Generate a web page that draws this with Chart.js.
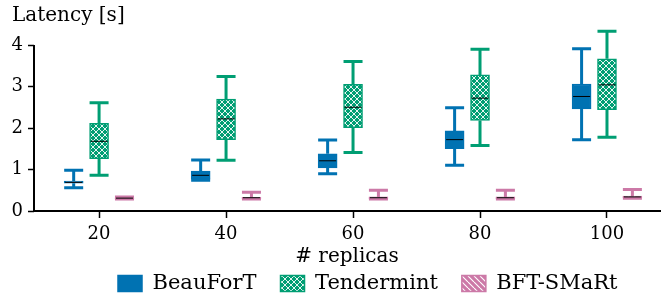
<!DOCTYPE html>
<html>
<head>
<meta charset="utf-8">
<title>Latency vs replicas</title>
<script src="https://cdn.jsdelivr.net/npm/chart.js@4.4.1/dist/chart.umd.min.js"></script>
<style>
  html, body { margin: 0; padding: 0; background: #fff; }
  #wrap { width: 664px; height: 297px; }
</style>
</head>
<body>
<div id="wrap"><canvas id="latencyChart" width="664" height="297"></canvas></div>
<script>
const replicas = [20, 40, 60, 80, 100];
const yTicks = [0, 1, 2, 3, 4];
const seriesNames = ['BeauForT', 'Tendermint', 'BFT-SMaRt'];

// [min, q1, median, q3, max] for each replica count
const beaufortStats = [
  [0.56, 0.67, 0.69, 0.72, 0.98],
  [0.74, 0.77, 0.86, 0.96, 1.23],
  [0.90, 1.04, 1.21, 1.38, 1.71],
  [1.10, 1.50, 1.72, 1.93, 2.49],
  [1.72, 2.46, 2.76, 3.06, 3.91]
];
const tendermintStats = [
  [0.86, 1.26, 1.68, 2.11, 2.61],
  [1.22, 1.72, 2.22, 2.70, 3.24],
  [1.41, 2.01, 2.50, 3.05, 3.60],
  [1.58, 2.18, 2.72, 3.28, 3.90],
  [1.78, 2.44, 3.04, 3.67, 4.33]
];
const bftSmartStats = [
  [0.29, 0.30, 0.31, 0.32, 0.34],
  [0.29, 0.30, 0.32, 0.33, 0.45],
  [0.29, 0.30, 0.32, 0.34, 0.50],
  [0.29, 0.30, 0.32, 0.34, 0.50],
  [0.31, 0.32, 0.34, 0.36, 0.52]
];

const BLUE = '#0072B2';
const GREEN = '#009E73';
const PINK = '#CC79A7';
const BOX_W = 19;

// hatch fills
function crossHatch(color) {
  const c = document.createElement('canvas');
  c.width = c.height = 6;
  const g = c.getContext('2d');
  g.fillStyle = color;
  g.fillRect(0, 0, 6, 6);
  g.strokeStyle = '#fff';
  g.lineWidth = 0.9;
  g.beginPath();
  g.moveTo(-1, -1); g.lineTo(7, 7);
  g.moveTo(-1, 7); g.lineTo(7, -1);
  g.stroke();
  return g.createPattern(c, 'repeat');
}

function diagHatch(color) {
  const c = document.createElement('canvas');
  c.width = c.height = 6;
  const g = c.getContext('2d');
  g.fillStyle = color;
  g.fillRect(0, 0, 6, 6);
  g.strokeStyle = '#fff';
  g.lineWidth = 1.1;
  g.beginPath();
  [-6, 0, 6].forEach(k => { g.moveTo(k, 0); g.lineTo(k + 6, 6); });
  g.stroke();
  return g.createPattern(c, 'repeat');
}

const series = [
  { stats: beaufortStats, color: BLUE, fill: BLUE, shift: -4 },
  { stats: tendermintStats, color: GREEN, fill: crossHatch(GREEN), shift: 0 },
  { stats: bftSmartStats, color: PINK, fill: diagHatch(PINK), shift: 4 }
];

// whiskers, caps and medians
const whiskers = {
  id: 'whiskers',
  afterDatasetsDraw(chart) {
    const { ctx, scales: { x, y } } = chart;
    ctx.save();
    series.forEach(s => {
      s.stats.forEach((st, j) => {
        const px = x.getPixelForValue(replicas[j] + s.shift);
        const [mn, q1, md, q3, mx] = st.map(v => y.getPixelForValue(v));
        const h = BOX_W / 2;
        ctx.strokeStyle = s.color;
        ctx.lineWidth = 3;
        ctx.beginPath();
        ctx.moveTo(px, mx); ctx.lineTo(px, q3);
        ctx.moveTo(px, q1); ctx.lineTo(px, mn);
        ctx.moveTo(px - h, mx); ctx.lineTo(px + h, mx);
        ctx.moveTo(px - h, mn); ctx.lineTo(px + h, mn);
        ctx.stroke();
        ctx.strokeStyle = '#000';
        ctx.lineWidth = 1;
        ctx.beginPath();
        ctx.moveTo(px - h + 1, md); ctx.lineTo(px + h - 1, md);
        ctx.stroke();
      });
    });
    // y spine, only over the tick range
    const x0 = chart.chartArea.left;
    ctx.strokeStyle = '#000';
    ctx.lineWidth = 2;
    ctx.beginPath();
    ctx.moveTo(x0, y.getPixelForValue(yTicks[0]) + 1);
    ctx.lineTo(x0, y.getPixelForValue(yTicks[yTicks.length - 1]));
    ctx.stroke();
    ctx.restore();
  }
};

// keep the legend short and move it under the plot
const legendPlace = {
  id: 'legendPlace',
  beforeLayout(chart) {
    const lg = chart.legend;
    if (lg && !lg._patched) {
      const fit = lg.fit.bind(lg);
      lg.fit = () => { fit(); lg.height = 26; };
      lg._patched = true;
    }
  },
  afterLayout(chart) {
    const lg = chart.legend;
    const pad = lg.options.labels.padding;
    lg.left = 118 - pad;
    lg.right = lg.left + 640;
    lg.top = 273 - pad;
  }
};

Chart.defaults.font.family = "'DejaVu Serif', serif";
Chart.defaults.font.size = 18;
Chart.defaults.color = '#000';

new Chart(document.getElementById('latencyChart'), {
  type: 'bar',
  data: {
    datasets: series.map((s, i) => ({
      label: seriesNames[i],
      data: s.stats.map((st, j) => ({ x: replicas[j] + s.shift, y: [st[1], st[3]] })),
      backgroundColor: s.fill,
      borderColor: s.color,
      borderWidth: 1.5,
      borderSkipped: false,
      barThickness: BOX_W,
      grouped: false
    }))
  },
  options: {
    responsive: false,
    animation: false,
    layout: { padding: { left: 12, right: 4, top: 0, bottom: 0 } },
    plugins: {
      tooltip: { enabled: false },
      title: {
        display: true,
        text: 'Latency [s]',
        align: 'start',
        color: '#000',
        font: { size: 20, weight: 'normal' },
        padding: { top: 4, bottom: 0 }
      },
      legend: {
        position: 'bottom',
        align: 'start',
        labels: { boxWidth: 24, boxHeight: 16, padding: 24, color: '#000', font: { size: 21 } }
      }
    },
    scales: {
      x: {
        type: 'linear',
        min: 9.75,
        max: 108.35,
        offset: false,
        grid: { offset: false, drawOnChartArea: false, tickLength: 7, tickColor: '#000', tickWidth: 1.5 },
        border: { display: true, color: '#000', width: 2 },
        afterBuildTicks: s => { s.ticks = replicas.map(v => ({ value: v })); },
        afterFit: s => { s.height = 60; },
        ticks: { padding: 6, color: '#000', font: { size: 18 } },
        title: { display: true, text: '# replicas', color: '#000', font: { size: 20 }, padding: { top: 0, bottom: 2 } }
      },
      y: {
        min: 0,
        max: 4.41,
        grid: { drawOnChartArea: false, tickLength: 6, tickColor: '#000', tickWidth: 1.5 },
        border: { display: false },
        afterBuildTicks: s => { s.ticks = yTicks.map(v => ({ value: v })); },
        afterFit: s => { s.width = 22; },
        ticks: { padding: 5, color: '#000', font: { size: 18 } }
      }
    }
  },
  plugins: [whiskers, legendPlace]
});
</script>
</body>
</html>
